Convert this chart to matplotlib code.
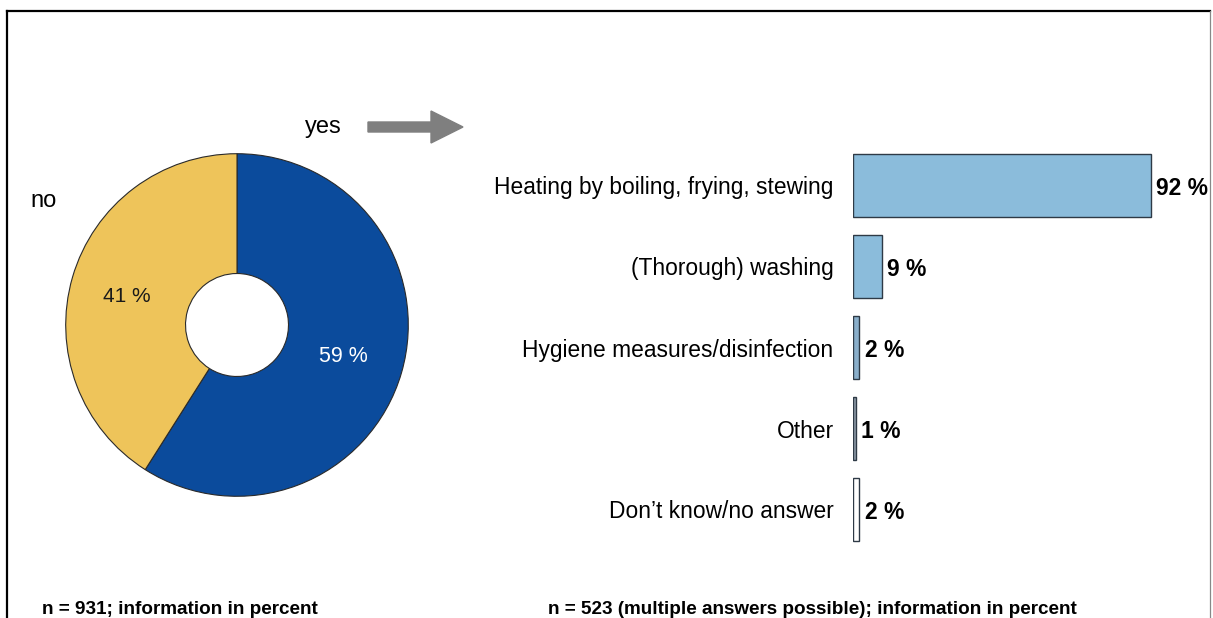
import matplotlib
matplotlib.use("Agg")
import matplotlib.pyplot as plt
from matplotlib.patches import FancyArrow
from matplotlib.lines import Line2D

# ---- data ----
pie_labels = ["yes", "no"]
pie_values = [59, 41]
pie_colors = ["#0B4B9C", "#EEC45A"]

bar_categories = ["Heating by boiling, frying, stewing", "(Thorough) washing",
                  "Hygiene measures/disinfection", "Other", "Don\u2019t know/no answer"]
bar_values = [92, 9, 2, 1, 2]
bar_colors = ["#8BBCDB", "#8BBCDB", "#8AAFCB", "#8E9BA8", "#FFFFFF"]

note_left = "n = 931; information in percent"
note_right = "n = 523 (multiple answers possible); information in percent"

plt.rcParams['font.family'] = ['Liberation Sans', 'DejaVu Sans']

W, H = 1213, 618
fig = plt.figure(figsize=(W / 100, H / 100), dpi=100)
fig.patch.set_facecolor("white")

def fx(px):
    return px / W

def fy(py):
    return 1 - py / H

# frame
fig.add_artist(Line2D([fx(7), fx(1210)], [fy(11), fy(11)], color="black", lw=1.6))
fig.add_artist(Line2D([fx(7), fx(7)], [fy(11), 0], color="black", lw=1.6))
fig.add_artist(Line2D([fx(1210), fx(1210)], [fy(11), 0], color="#888888", lw=0.9))

# ---- donut ----
cx, cy, r, rh = 237, 325, 173, 52
axp = fig.add_axes([fx(cx - r), fy(cy + r), 2 * r / W, 2 * r / H])
axp.pie(pie_values, colors=pie_colors, startangle=90, counterclock=False, radius=1,
        wedgeprops=dict(width=1 - rh / r, edgecolor="#2A2A2A", linewidth=0.8))
axp.set_xlim(-1.01, 1.01)
axp.set_ylim(-1.01, 1.01)
axp.set_aspect("equal")
axp.axis("off")

fig.text(fx(343), fy(356), f"{pie_values[0]} %", color="white", fontsize=15.5,
         ha="center", va="center")
fig.text(fx(127), fy(297), f"{pie_values[1]} %", color="#1A1A1A", fontsize=15,
         ha="center", va="center")
fig.text(fx(30), fy(201), pie_labels[1], color="black", fontsize=17, ha="left", va="center")
fig.text(fx(305), fy(127), pie_labels[0], color="black", fontsize=17, ha="left", va="center")

# arrow
fig.add_artist(FancyArrow(fx(368), fy(127), fx(463 - 368) - fx(0), 0,
                          width=10 / H, head_width=32 / H, head_length=fx(32),
                          length_includes_head=True, color="#7F7F7F",
                          transform=fig.transFigure))

# ---- bars ----
x0, px_per = 853, (1151 - 853) / 92
top, bottom = 145, 550
axb = fig.add_axes([fx(x0), fy(bottom), 100 * px_per / W, (bottom - top) / H])
ypos = list(range(len(bar_categories)))
axb.barh(ypos, bar_values, height=0.77, color=bar_colors, edgecolor="#2E3A46", linewidth=1.0)
axb.set_xlim(0, 100)
axb.set_ylim(len(bar_categories) - 0.5, -0.5)
axb.set_yticks(ypos)
axb.set_yticklabels(bar_categories, fontsize=16.4)
axb.tick_params(axis="y", length=0, pad=14)
axb.set_xticks([])
for s in axb.spines.values():
    s.set_visible(False)
axb.patch.set_alpha(0)
for y, v in zip(ypos, bar_values):
    axb.text(v + 1.6, y + 0.04, f"{v} %", fontsize=16.5, fontweight="bold", ha="left", va="center")

# ---- notes ----
fig.text(fx(42), fy(614), note_left, fontsize=13.6, fontweight="bold",
         ha="left", va="baseline")
fig.text(fx(548), fy(614), note_right, fontsize=13.6, fontweight="bold",
         ha="left", va="baseline")

fig.savefig("out.png", dpi=100, facecolor="white")
